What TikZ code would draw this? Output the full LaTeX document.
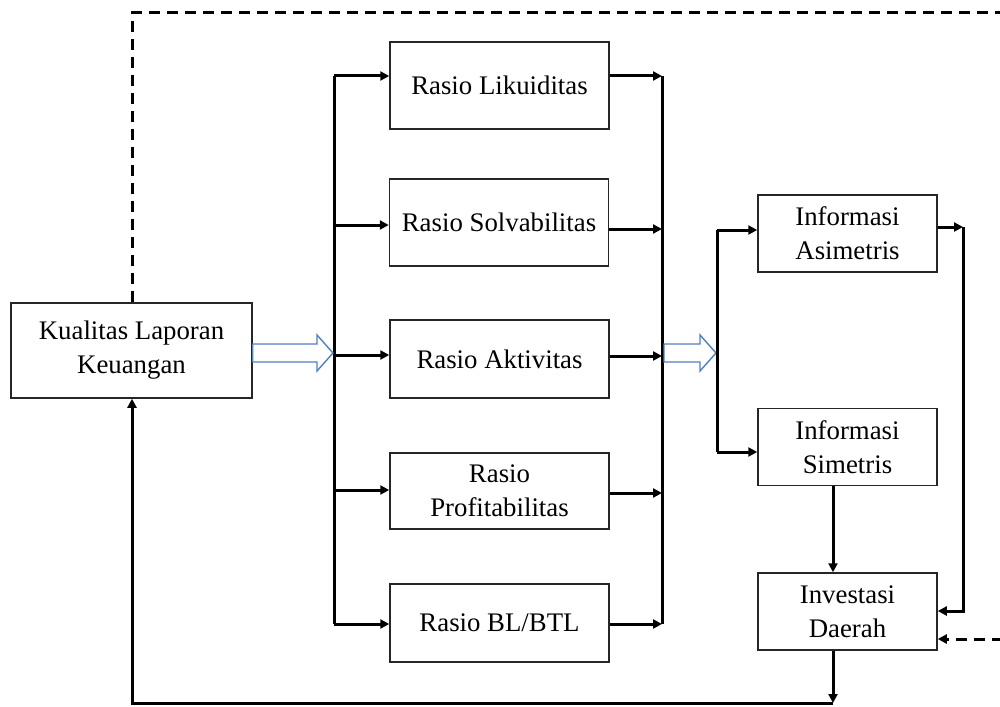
\documentclass[tikz,border=0pt]{standalone}
\usepackage{fontspec}
\setmainfont{Liberation Serif}
\usetikzlibrary{arrows.meta,calc}
\definecolor{hollowblue}{HTML}{4F81BD}
\begin{document}
\begin{tikzpicture}[x=0.5pt,y=-0.5pt,
  box/.style={draw=black!85,line width=0.75pt,fill=white,align=center,inner sep=0pt,
    font=\fontsize{13.4}{17}\selectfont},
  rbox/.style={box,minimum width=109.5pt},
  ibox/.style={box,minimum width=89.5pt,minimum height=38.5pt},
  conn/.style={line width=1.5pt,line join=miter},
  arr/.style={conn,-{Triangle[length=4.5pt,width=4.5pt]}},
  dashline/.style={line width=1.5pt,dash pattern=on 5.5pt off 3.5pt},
  dasharr/.style={dashline,-{Triangle[length=4.5pt,width=4.5pt]}},
  hollow/.style={draw=hollowblue,line width=0.7pt,fill=white,line join=miter}]
\useasboundingbox (0,0) rectangle (1000,706);

% nodes
\node[box,minimum width=120.5pt,minimum height=47.5pt] (kual) at (131.5,350.5) {Kualitas Laporan\\Keuangan};
\node[rbox,minimum height=43.5pt] (lik) at (499.5,85.5) {Rasio Likuiditas};
\node[rbox,minimum height=43.5pt] (sol) at (499,222.5) {Rasio Solvabilitas};
\node[rbox,minimum height=39pt] (akt) at (499.5,359) {Rasio Aktivitas};
\node[rbox,minimum height=38pt] (pro) at (499.5,491) {Rasio\\Profitabilitas};
\node[rbox,minimum height=39pt] (bl) at (499.5,623) {Rasio BL/BTL};
\node[ibox] (asim) at (847.5,233.5) {Informasi\\Asimetris};
\node[ibox] (sim) at (847.5,447) {Informasi\\Simetris};
\node[ibox] (inv) at (847.5,611.5) {Investasi\\Daerah};

% left bus
\coordinate (lb1) at (334,76);
\coordinate (lb2) at (334,225);
\coordinate (lb3) at (334,355);
\coordinate (lb4) at (334,490);
\coordinate (lb5) at (334,624);
\draw[conn] (lb1) -- (lb5);
\draw[arr] (lb1) -- (lik.west |- lb1);
\draw[arr] (lb2) -- (sol.west |- lb2);
\draw[arr] (lb3) -- (akt.west |- lb3);
\draw[arr] (lb4) -- (pro.west |- lb4);
\draw[arr] (lb5) -- (bl.west |- lb5);

% right bus
\coordinate (rb1) at (662,76);
\coordinate (rb2) at (662,229);
\coordinate (rb3) at (662,356);
\coordinate (rb4) at (662,493);
\coordinate (rb5) at (662,624);
\draw[conn] (rb1) -- (rb5);
\draw[arr] (lik.east |- rb1) -- (rb1);
\draw[arr] (sol.east |- rb2) -- (rb2);
\draw[arr] (akt.east |- rb3) -- (rb3);
\draw[arr] (pro.east |- rb4) -- (rb4);
\draw[arr] (bl.east |- rb5) -- (rb5);

% hollow arrows
\draw[hollow] (kual.east |- 0,344) -- (317,344) -- (317,335) -- (333,353)
  -- (317,371) -- (317,362) -- (kual.east |- 0,362) -- cycle;
\draw[hollow] (664,344) -- (700,344) -- (700,335) -- (716,353)
  -- (700,371) -- (700,362) -- (664,362) -- cycle;

% second bus
\coordinate (sb1) at (717,230);
\coordinate (sb2) at (717,452);
\draw[conn] (sb1) -- (sb2);
\draw[arr] (sb1) -- (asim.west |- sb1);
\draw[arr] (sb2) -- (sim.west |- sb2);

% right feedback to investasi
\coordinate (fb1) at (963,227);
\coordinate (fb2) at (963,611);
\draw[arr] (asim.east |- fb1) -- (fb1);
\draw[arr] (fb1) -- (fb2) -- (inv.east |- fb2);

% simetris -> investasi
\draw[arr] (sim.south -| 833,0) -- (inv.north -| 833,0);

% investasi -> bottom -> kualitas
\coordinate (bt1) at (833,703);
\coordinate (bt2) at (132,703);
\draw[arr] (inv.south -| bt1) -- (bt1);
\draw[arr] (bt1) -- (bt2) -- (kual.south -| bt2);

% dashed loop
\coordinate (d1) at (132,13);
\coordinate (d2) at (1003,13);
\coordinate (d3) at (1003,639);
\draw[dashline] (kual.north -| d1) -- (d1) -- (d2);
\draw[dasharr] (d3) -- (inv.east |- d3);
\end{tikzpicture}
\end{document}
